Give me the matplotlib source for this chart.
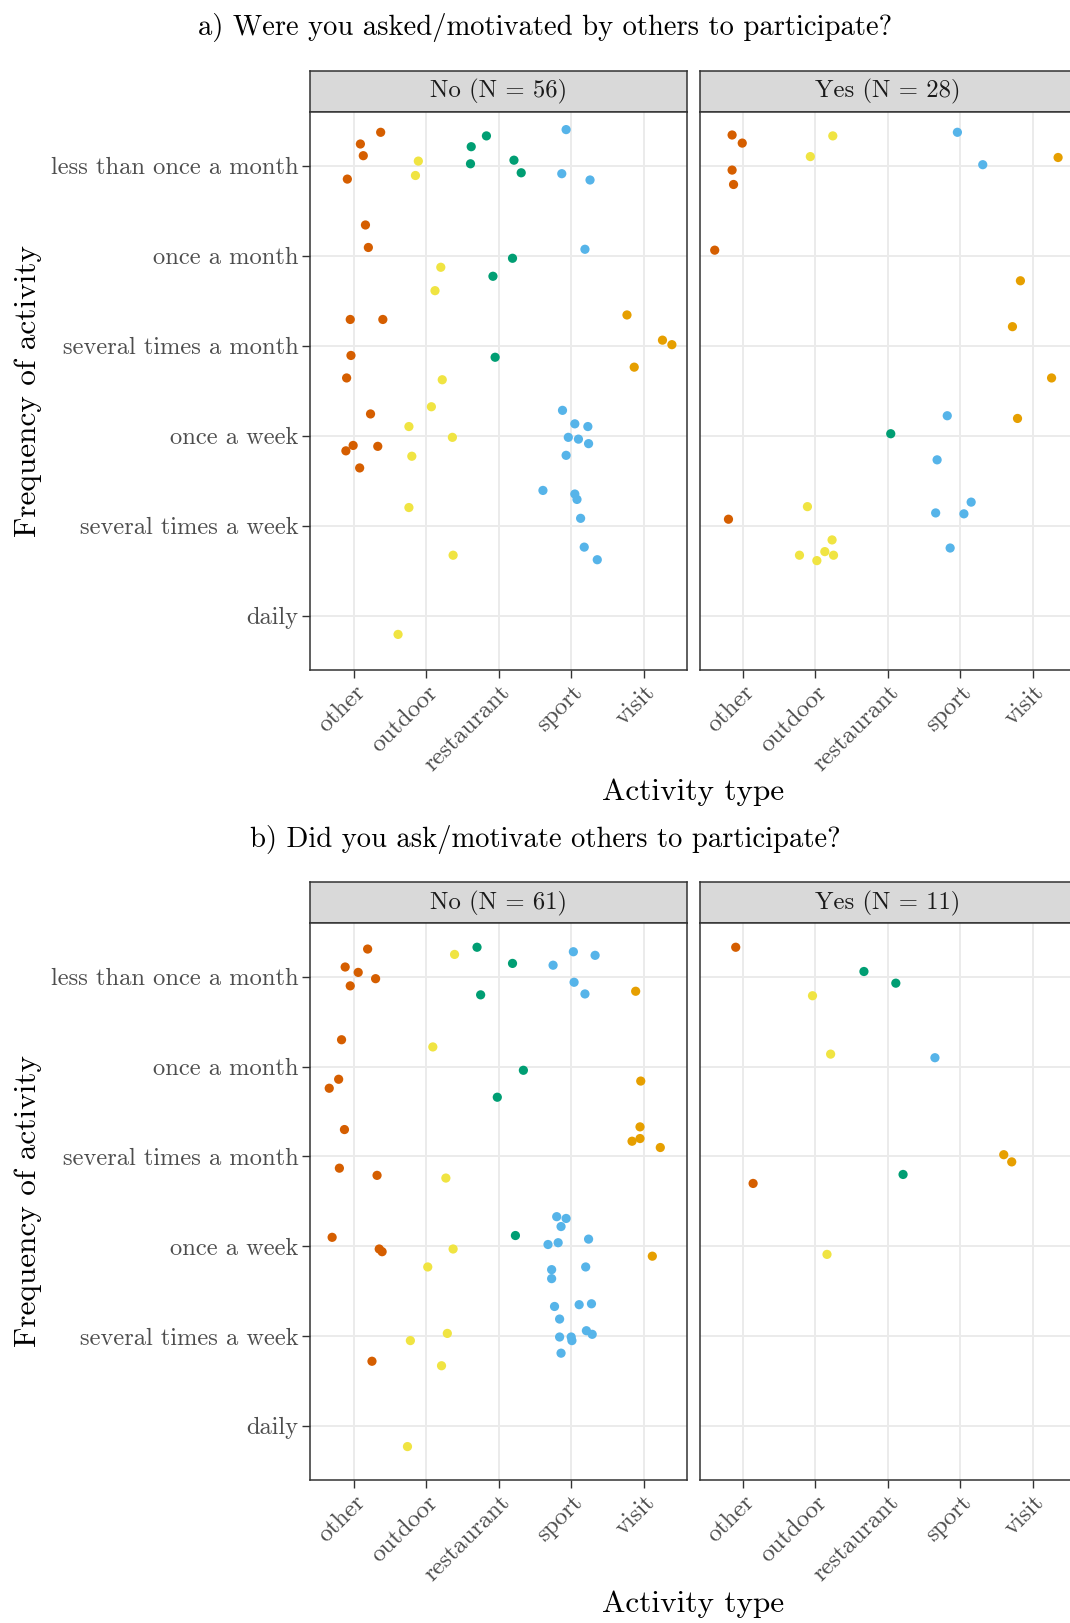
import matplotlib
matplotlib.use("Agg")
import matplotlib.pyplot as plt
import numpy as np

plt.rcParams['font.family'] = ['cmr10', 'DejaVu Serif']
plt.rcParams['axes.formatter.use_mathtext'] = True

activities = ["other", "outdoor", "restaurant", "sport", "visit"]
frequencies = ["daily", "several times a week", "once a week",
               "several times a month", "once a month", "less than once a month"]
colors = ["#D55E00", "#F0E442", "#009E73", "#56B4E9", "#E69F00"]

# a) asked/motivated by others: No (N = 56)
a_no_act = [0]*15 + [1]*12 + [2]*8 + [3]*17 + [4]*4
a_no_freq = [5, 5, 5, 5, 4, 4, 3, 3, 3, 3, 2, 2, 2, 2, 2,
             5, 5, 4, 4, 3, 2, 2, 2, 2, 1, 1, 0,
             5, 5, 5, 5, 5, 4, 4, 3,
             5, 5, 5, 4, 2, 2, 2, 2, 2, 2, 2, 1, 1, 1, 1, 1, 1,
             3, 3, 3, 3]
a_no_jx = [.37, .09, .13, -.09, .16, .20, -.05, .40, -.04, -.10, .23, -.01, -.11, .33, .08,
           -.11, -.15, .20, .12, .22, .07, -.24, .36, -.20, -.24, .37, -.39,
           -.17, -.38, -.39, .21, .31, .19, -.08, -.05,
           -.07, -.13, .26, .19, -.12, .05, .23, -.04, .10, .24, -.07, -.39, .05, .08, .13, .18, .36,
           -.23, .26, .39, -.13]
a_no_jy = [.37, .24, .11, -.15, .34, .09, .29, .29, -.11, -.36, .24, -.11, -.17, -.12, -.36,
           .05, -.11, -.13, -.39, -.38, .32, .10, -.02, -.23, .20, -.33, -.21,
           .33, .21, .02, .06, -.08, -.03, -.23, -.13,
           .40, -.09, -.16, .07, .28, .13, .10, -.02, -.04, -.09, -.22, .39, .35, .29, .08, -.24, -.38,
           .34, .06, .01, -.24]

# a) asked/motivated by others: Yes (N = 28)
a_yes_act = [0]*6 + [1]*8 + [2]*1 + [3]*8 + [4]*5
a_yes_freq = [5, 5, 5, 5, 4, 1,
              5, 5, 1, 1, 1, 1, 1, 1,
              2,
              5, 5, 2, 2, 1, 1, 1, 1,
              5, 4, 3, 3, 2]
a_yes_jx = [-.15, -.01, -.15, -.13, -.39, -.20,
            .24, -.07, -.11, .23, -.22, .02, .13, .25,
            .04,
            -.04, .31, -.18, -.32, .15, -.34, .05, -.14,
            .35, -.17, -.28, .26, -.21]
a_yes_jy = [.34, .25, -.05, -.21, .06, .07,
            .33, .10, .21, -.16, -.33, -.39, -.29, -.33,
            .02,
            .37, .01, .22, -.27, .26, .14, .13, -.25,
            .09, -.28, .21, -.36, .19]

# b) asked/motivated others: No (N = 61)
b_no_act = [0]*15 + [1]*9 + [2]*6 + [3]*24 + [4]*7
b_no_freq = [5, 5, 5, 5, 5, 4, 4, 4, 3, 3, 3, 2, 2, 2, 1,
             5, 4, 3, 2, 2, 1, 1, 1, 0,
             5, 5, 5, 4, 4, 2,
             5, 5, 5, 5, 5, 2, 2, 2, 2, 2, 2, 2, 2, 2, 1, 1, 1, 1, 1, 1, 1, 1, 1, 1,
             5, 4, 3, 3, 3, 3, 2]
b_no_jx = [.19, -.12, .06, .30, -.05, -.17, -.21, -.34, -.13, -.20, .32, -.30, .35, .39, .25,
           .39, .09, .27, .37, .02, .29, -.22, .21, -.26,
           -.30, .19, -.25, .34, -.02, .23,
           .03, .33, -.25, .04, .19, -.20, -.07, -.14, .24, -.32, -.18, .20, -.27, -.27,
           -.23, .11, .28, -.16, -.16, .00, .01, .21, .29, -.14,
           -.11, -.04, -.05, -.16, -.05, .23, .12]
b_no_jy = [.31, .11, .05, -.02, -.10, .30, -.14, -.24, .30, -.13, -.21, .10, -.03, -.06, -.28,
           .25, .22, -.24, -.03, -.23, .03, -.05, -.33, -.23,
           .33, .15, -.20, -.04, -.34, .12,
           .28, .24, .13, -.06, -.19, .33, .31, .22, .08, .02, .04, -.23, -.26, -.36,
           .33, .35, .36, .19, -.01, -.01, -.05, .06, .02, -.19,
           -.16, -.16, .33, .17, .20, .10, -.11]

# b) asked/motivated others: Yes (N = 11)
b_yes_act = [0]*2 + [1]*3 + [2]*3 + [3]*1 + [4]*2
b_yes_freq = [5, 3, 5, 4, 2, 5, 5, 3, 4, 3, 3]
b_yes_jx = [-.10, .14, -.04, .21, .16, -.33, .11, .21, -.35, -.40, -.29]
b_yes_jy = [.33, -.30, -.21, .14, -.09, .06, -.07, -.20, .10, .02, -.06]

W, H = 1070, 1623
fig = plt.figure(figsize=(W / 100, H / 100), dpi=100)


def px_axes(x0, y0, x1, y1):
    return fig.add_axes([x0 / W, 1 - y1 / H, (x1 - x0) / W, (y1 - y0) / H])


def facet(x0, y0, x1, y1, act, freq, jx, jy, label, show_y):
    strip = px_axes(x0, y0 - 41, x1, y0)
    strip.set_facecolor("#D9D9D9")
    strip.set_xticks([])
    strip.set_yticks([])
    for s in strip.spines.values():
        s.set_color("#333333")
        s.set_linewidth(1.1)
    strip.text(0.5, 0.48, label, ha="center", va="center", fontsize=17.8,
               color="#1A1A1A", transform=strip.transAxes)

    ax = px_axes(x0, y0, x1, y1)
    act = np.array(act)
    xs = act + 1 + np.array(jx)
    ys = np.array(freq) + 1 + np.array(jy)
    ax.scatter(xs, ys, c=[colors[i] for i in act], s=44, linewidths=0, zorder=3)
    ax.set_xlim(0.4, 5.6)
    ax.set_ylim(0.4, 6.6)
    ax.set_xticks(range(1, 6))
    ax.set_xticklabels(activities, rotation=45, ha="right", rotation_mode="anchor",
                       fontsize=17.8, color="#4D4D4D")
    ax.set_yticks(range(1, 7))
    ax.tick_params(length=5.5, width=1, color="#333333", pad=3)
    if show_y:
        ax.set_yticklabels(frequencies, fontsize=17.6, color="#4D4D4D")
    else:
        ax.tick_params(axis="y", left=False, labelleft=False)
    ax.grid(True, color="#EBEBEB", linewidth=1.4)
    ax.set_axisbelow(True)
    for s in ax.spines.values():
        s.set_color("#333333")
        s.set_linewidth(1.1)
    return ax


left = (310.4, 687.1)
right = (699.5, 1076.2)
ya = (111.6, 669.5)
yb = (923.0, 1479.8)

facet(left[0], ya[0], left[1], ya[1], a_no_act, a_no_freq, a_no_jx, a_no_jy, "No (N = 56)", True)
facet(right[0], ya[0], right[1], ya[1], a_yes_act, a_yes_freq, a_yes_jx, a_yes_jy, "Yes (N = 28)", False)
facet(left[0], yb[0], left[1], yb[1], b_no_act, b_no_freq, b_no_jx, b_no_jy, "No (N = 61)", True)
facet(right[0], yb[0], right[1], yb[1], b_yes_act, b_yes_freq, b_yes_jx, b_yes_jy, "Yes (N = 11)", False)

fig.text(545 / W, 1 - 28 / H, "a) Were you asked/motivated by others to participate?",
         ha="center", va="center", fontsize=20.6)
fig.text(545 / W, 1 - 840 / H, "b) Did you ask/motivate others to participate?",
         ha="center", va="center", fontsize=20.6)
for yc, yl in [(792, 391), (1604, 1201)]:
    fig.text(693 / W, 1 - yc / H, "Activity type", ha="center", va="center", fontsize=22.5)
    fig.text(28 / W, 1 - yl / H, "Frequency of activity", ha="center", va="center",
             rotation=90, fontsize=22.5)

fig.savefig("out.png", dpi=100)
